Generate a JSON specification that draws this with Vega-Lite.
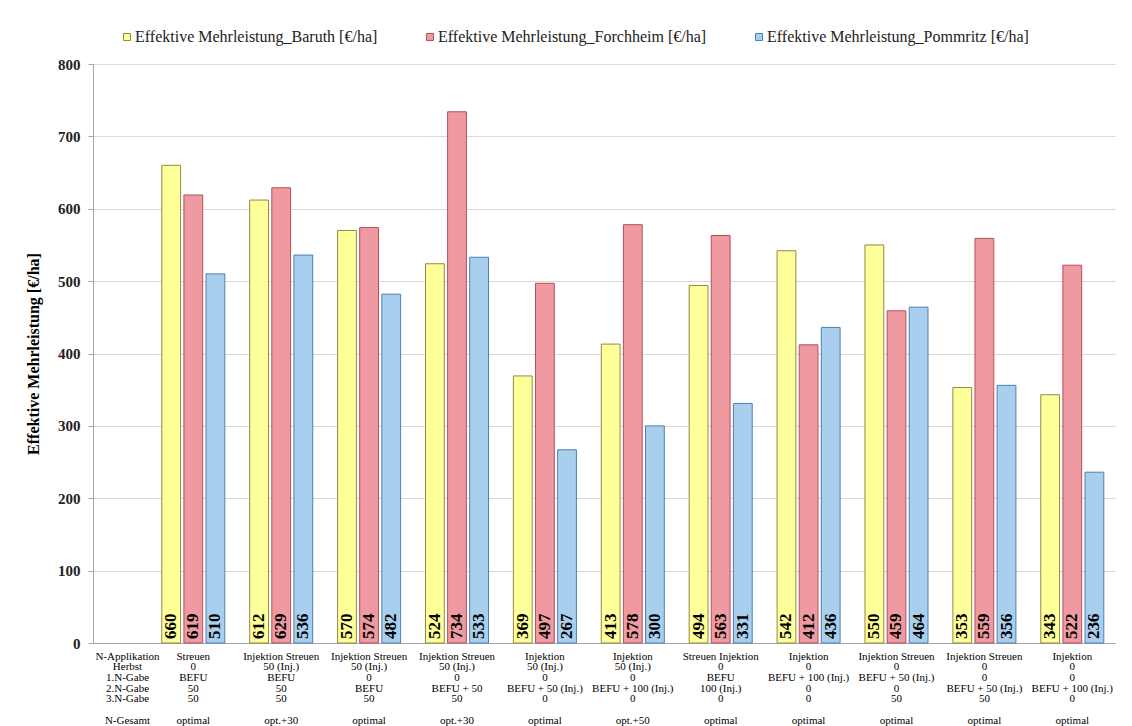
{
  "$schema": "https://vega.github.io/schema/vega-lite/v6.json",
  "width": 1022,
  "height": 579,
  "autosize": {"type": "none"},
  "padding": {"left": 93, "top": 64, "right": 17, "bottom": 83},
  "background": "white",
  "config": {
    "font": "Liberation Serif",
    "view": {"stroke": null},
    "legend": {"labelFont": "Liberation Serif", "titleFont": "Liberation Serif", "labelLimit": 0},
    "axis": {"labelFont": "Liberation Serif", "titleFont": "Liberation Serif"},
    "text": {"font": "Liberation Serif"}
  },
  "data": {
    "values": [
      {"g": "Streuen|0|BEFU|50|50|optimal", "s": "Effektive Mehrleistung_Baruth [€/ha]", "v": 660},
      {"g": "Streuen|0|BEFU|50|50|optimal", "s": "Effektive Mehrleistung_Forchheim [€/ha]", "v": 619},
      {"g": "Streuen|0|BEFU|50|50|optimal", "s": "Effektive Mehrleistung_Pommritz [€/ha]", "v": 510},
      {"g": "Injektion Streuen|50 (Inj.)|BEFU|50|50|opt.+30", "s": "Effektive Mehrleistung_Baruth [€/ha]", "v": 612},
      {"g": "Injektion Streuen|50 (Inj.)|BEFU|50|50|opt.+30", "s": "Effektive Mehrleistung_Forchheim [€/ha]", "v": 629},
      {"g": "Injektion Streuen|50 (Inj.)|BEFU|50|50|opt.+30", "s": "Effektive Mehrleistung_Pommritz [€/ha]", "v": 536},
      {"g": "Injektion Streuen|50 (Inj.)|0|BEFU|50|optimal", "s": "Effektive Mehrleistung_Baruth [€/ha]", "v": 570},
      {"g": "Injektion Streuen|50 (Inj.)|0|BEFU|50|optimal", "s": "Effektive Mehrleistung_Forchheim [€/ha]", "v": 574},
      {"g": "Injektion Streuen|50 (Inj.)|0|BEFU|50|optimal", "s": "Effektive Mehrleistung_Pommritz [€/ha]", "v": 482},
      {"g": "Injektion Streuen|50 (Inj.)|0|BEFU + 50|50|opt.+30", "s": "Effektive Mehrleistung_Baruth [€/ha]", "v": 524},
      {"g": "Injektion Streuen|50 (Inj.)|0|BEFU + 50|50|opt.+30", "s": "Effektive Mehrleistung_Forchheim [€/ha]", "v": 734},
      {"g": "Injektion Streuen|50 (Inj.)|0|BEFU + 50|50|opt.+30", "s": "Effektive Mehrleistung_Pommritz [€/ha]", "v": 533},
      {"g": "Injektion|50 (Inj.)|0|BEFU + 50 (Inj.)|0|optimal", "s": "Effektive Mehrleistung_Baruth [€/ha]", "v": 369},
      {"g": "Injektion|50 (Inj.)|0|BEFU + 50 (Inj.)|0|optimal", "s": "Effektive Mehrleistung_Forchheim [€/ha]", "v": 497},
      {"g": "Injektion|50 (Inj.)|0|BEFU + 50 (Inj.)|0|optimal", "s": "Effektive Mehrleistung_Pommritz [€/ha]", "v": 267},
      {"g": "Injektion|50 (Inj.)|0|BEFU + 100 (Inj.)|0|opt.+50", "s": "Effektive Mehrleistung_Baruth [€/ha]", "v": 413},
      {"g": "Injektion|50 (Inj.)|0|BEFU + 100 (Inj.)|0|opt.+50", "s": "Effektive Mehrleistung_Forchheim [€/ha]", "v": 578},
      {"g": "Injektion|50 (Inj.)|0|BEFU + 100 (Inj.)|0|opt.+50", "s": "Effektive Mehrleistung_Pommritz [€/ha]", "v": 300},
      {"g": "Streuen Injektion|0|BEFU|100 (Inj.)|0|optimal", "s": "Effektive Mehrleistung_Baruth [€/ha]", "v": 494},
      {"g": "Streuen Injektion|0|BEFU|100 (Inj.)|0|optimal", "s": "Effektive Mehrleistung_Forchheim [€/ha]", "v": 563},
      {"g": "Streuen Injektion|0|BEFU|100 (Inj.)|0|optimal", "s": "Effektive Mehrleistung_Pommritz [€/ha]", "v": 331},
      {"g": "Injektion|0|BEFU + 100 (Inj.)|0|0|optimal", "s": "Effektive Mehrleistung_Baruth [€/ha]", "v": 542},
      {"g": "Injektion|0|BEFU + 100 (Inj.)|0|0|optimal", "s": "Effektive Mehrleistung_Forchheim [€/ha]", "v": 412},
      {"g": "Injektion|0|BEFU + 100 (Inj.)|0|0|optimal", "s": "Effektive Mehrleistung_Pommritz [€/ha]", "v": 436},
      {"g": "Injektion Streuen|0|BEFU + 50 (Inj.)|0|50|optimal", "s": "Effektive Mehrleistung_Baruth [€/ha]", "v": 550},
      {"g": "Injektion Streuen|0|BEFU + 50 (Inj.)|0|50|optimal", "s": "Effektive Mehrleistung_Forchheim [€/ha]", "v": 459},
      {"g": "Injektion Streuen|0|BEFU + 50 (Inj.)|0|50|optimal", "s": "Effektive Mehrleistung_Pommritz [€/ha]", "v": 464},
      {"g": "Injektion Streuen|0|0|BEFU + 50 (Inj.)|50|optimal", "s": "Effektive Mehrleistung_Baruth [€/ha]", "v": 353},
      {"g": "Injektion Streuen|0|0|BEFU + 50 (Inj.)|50|optimal", "s": "Effektive Mehrleistung_Forchheim [€/ha]", "v": 559},
      {"g": "Injektion Streuen|0|0|BEFU + 50 (Inj.)|50|optimal", "s": "Effektive Mehrleistung_Pommritz [€/ha]", "v": 356},
      {"g": "Injektion|0|0|BEFU + 100 (Inj.)|0|optimal", "s": "Effektive Mehrleistung_Baruth [€/ha]", "v": 343},
      {"g": "Injektion|0|0|BEFU + 100 (Inj.)|0|optimal", "s": "Effektive Mehrleistung_Forchheim [€/ha]", "v": 522},
      {"g": "Injektion|0|0|BEFU + 100 (Inj.)|0|optimal", "s": "Effektive Mehrleistung_Pommritz [€/ha]", "v": 236}
    ]
  },
  "encoding": {
    "xOffset": {
      "field": "s",
      "type": "nominal",
      "sort": null,
      "scale": {"paddingInner": 0.15, "paddingOuter": 0}
    }
  },
  "resolve": {"axis": {"x": "independent"}},
  "layer": [
    {
      "mark": {"type": "bar", "strokeWidth": 1},
      "encoding": {
        "x": {
          "field": "g",
          "type": "nominal",
          "sort": null,
          "scale": {"paddingInner": 0.283, "paddingOuter": 0.455, "align": 0.86},
          "axis": {
            "orient": "bottom",
            "title": ["N-Applikation", "Herbst", "1.N-Gabe", "2.N-Gabe", "3.N-Gabe"],
            "titleX": 34,
            "titleY": 7,
            "titleAlign": "center",
            "titleBaseline": "top",
            "titleFontWeight": "normal",
            "titleFontSize": 11,
            "titleLineHeight": 10.7,
            "titleColor": "#000000",
            "labelExpr": "slice(split(datum.label, '|'), 0, 5)",
            "labelAngle": 0,
            "labelAlign": "center",
            "labelBaseline": "top",
            "labelFontSize": 11,
            "labelLineHeight": 10.7,
            "labelPadding": 7,
            "labelColor": "#000000",
            "labelOverlap": false,
            "ticks": false,
            "domainColor": "#A6A6A6",
            "grid": false
          }
        },
        "y": {
          "field": "v",
          "type": "quantitative",
          "scale": {"domain": [0, 800]},
          "axis": {
            "values": [0, 100, 200, 300, 400, 500, 600, 700, 800],
            "title": "Effektive Mehrleistung [€/ha]",
            "titleFontSize": 16,
            "titleFontWeight": "bold",
            "titleColor": "#000000",
            "titlePadding": 16,
            "labelFontSize": 15,
            "labelFontWeight": "bold",
            "labelColor": "#222222",
            "labelPadding": 8,
            "tickSize": 5,
            "tickColor": "#A6A6A6",
            "domainColor": "#A6A6A6",
            "gridColor": "#D9D9D9"
          }
        },
        "fill": {
          "field": "s",
          "type": "nominal",
          "sort": null,
          "title": null,
          "scale": {
            "domain": ["Effektive Mehrleistung_Baruth [€/ha]", "Effektive Mehrleistung_Forchheim [€/ha]", "Effektive Mehrleistung_Pommritz [€/ha]"],
            "range": ["#FFFF99", "#EE9AA0", "#A9CFEE"]
          },
          "legend": {
            "orient": "none",
            "legendX": 26,
            "legendY": -35,
            "direction": "horizontal",
            "labelFont": "Liberation Serif",
            "labelFontSize": 16,
            "labelLimit": 0,
            "labelColor": "#222222",
            "symbolType": "square",
            "symbolSize": 49,
            "symbolStrokeWidth": 1,
            "symbolStrokeColor": "#888888",
            "columnPadding": 44,
            "labelOffset": 0
          }
        },
        "stroke": {
          "field": "s",
          "type": "nominal",
          "sort": null,
          "scale": {
            "domain": ["Effektive Mehrleistung_Baruth [€/ha]", "Effektive Mehrleistung_Forchheim [€/ha]", "Effektive Mehrleistung_Pommritz [€/ha]"],
            "range": ["#8C8C46", "#B5505A", "#4F7FAF"]
          },
          "legend": null
        }
      }
    },
    {
      "mark": {"type": "text", "angle": 270, "align": "left", "baseline": "middle", "dx": 4, "fontWeight": "bold", "fontSize": 17, "color": "#000000", "font": "Liberation Serif"},
      "encoding": {
        "x": {
          "field": "g",
          "type": "nominal",
          "sort": null,
          "axis": {
            "orient": "bottom",
            "title": "N-Gesamt",
            "titleX": 34,
            "titleY": 71,
            "titleAlign": "center",
            "titleBaseline": "top",
            "titleFontWeight": "normal",
            "titleFontSize": 11,
            "titleColor": "#000000",
            "labelExpr": "split(datum.label, '|')[5]",
            "labelAngle": 0,
            "labelAlign": "center",
            "labelBaseline": "top",
            "labelFontSize": 11,
            "labelPadding": 71,
            "labelColor": "#000000",
            "labelOverlap": false,
            "ticks": false,
            "domain": false,
            "grid": false
          }
        },
        "y": {"datum": 0, "type": "quantitative"},
        "text": {"field": "v", "type": "quantitative"}
      }
    }
  ]
}
